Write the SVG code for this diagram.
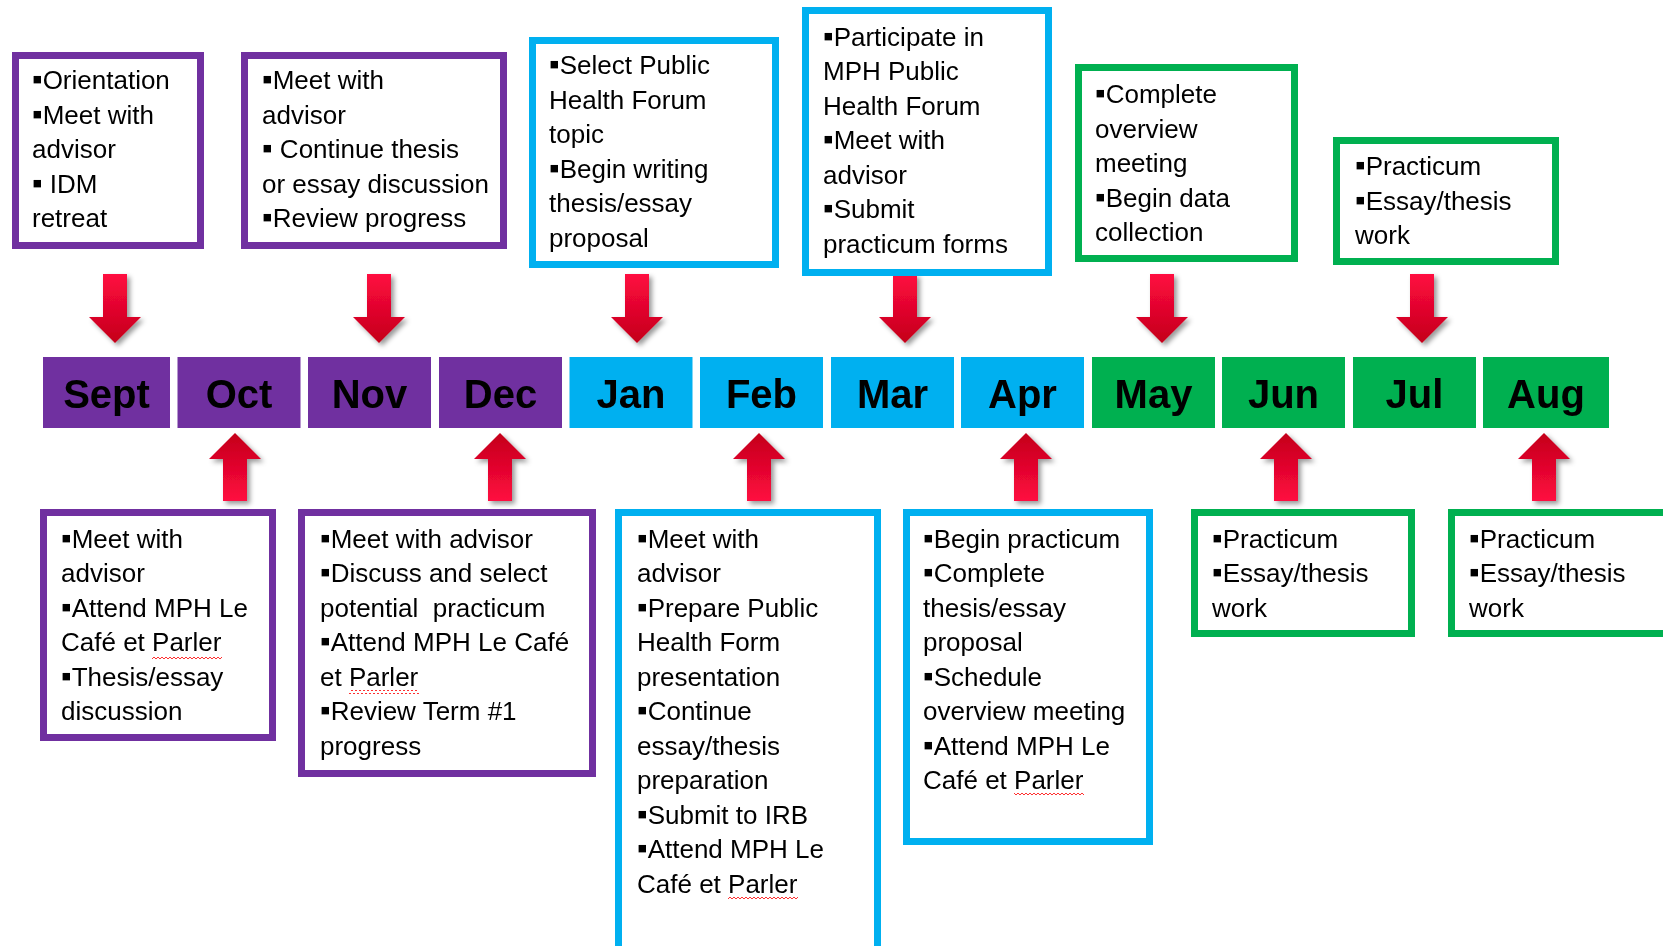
<svg xmlns="http://www.w3.org/2000/svg" xmlns:xlink="http://www.w3.org/1999/xlink" width="1663" height="946" viewBox="0 0 1663 946">
<style>
.bx{fill:#fff;stroke-width:7}
.pu{stroke:#7030A0}
.cy{stroke:#00B0F0}
.gr{stroke:#00B050}
.bar-pu{fill:#7030A0}
.bar-cy{fill:#00B0F0}
.bar-gr{fill:#00B050}
.mon{font-family:"Liberation Sans",Arial,sans-serif;font-weight:bold;font-size:40px;fill:#000;text-anchor:middle}
.t{font-family:"Liberation Sans",Arial,sans-serif;font-size:26px;fill:#000;white-space:pre}
.b{font-size:30px}
.sq{fill:url(#squig)}
</style>
<defs>
<linearGradient id="arrG" x1="0" y1="0" x2="0" y2="1">
<stop offset="0" stop-color="#ff0a40"/>
<stop offset="1" stop-color="#c4001a"/>
</linearGradient>
<linearGradient id="arrGu" x1="0" y1="0" x2="0" y2="1">
<stop offset="0" stop-color="#c4001a"/>
<stop offset="1" stop-color="#ff0a40"/>
</linearGradient>
<filter id="shadow" x="-30%" y="-20%" width="160%" height="140%">
<feDropShadow dx="3" dy="3" stdDeviation="2.5" flood-color="#000" flood-opacity="0.4"/>
</filter>
<path id="down" d="M-12 0 H12 V43 H26 L0 69 L-26 43 H-12 Z" fill="url(#arrG)"/>
<path id="up" d="M0 0 L26 26 H12 V68 H-12 V26 H-26 Z" fill="url(#arrGu)"/>
<pattern id="squig" patternUnits="userSpaceOnUse" x="0" y="0" width="4" height="4">
<path d="M0 3 L2 1 L4 3" fill="none" stroke="#ff3030" stroke-width="1"/>
</pattern>
</defs>
<rect width="1663" height="946" fill="#fff"/>

<g id="connectors" filter="url(#shadow)">
<use xlink:href="#down" href="#down" x="115" y="274"/>
<use xlink:href="#down" href="#down" x="379" y="274"/>
<use xlink:href="#down" href="#down" x="637" y="274"/>
<use xlink:href="#down" href="#down" x="905" y="274"/>
<use xlink:href="#down" href="#down" x="1162" y="274"/>
<use xlink:href="#down" href="#down" x="1422" y="274"/>
<use xlink:href="#up" href="#up" x="235" y="433"/>
<use xlink:href="#up" href="#up" x="500" y="433"/>
<use xlink:href="#up" href="#up" x="759" y="433"/>
<use xlink:href="#up" href="#up" x="1026" y="433"/>
<use xlink:href="#up" href="#up" x="1286" y="433"/>
<use xlink:href="#up" href="#up" x="1544" y="433"/>
</g>

<g id="month-sept"><rect class="bar-pu" x="43" y="357" width="127" height="71"/><text class="mon" x="106.5" y="408">Sept</text></g>
<g id="month-oct"><rect class="bar-pu" x="177.5" y="357" width="123" height="71"/><text class="mon" x="239" y="408">Oct</text></g>
<g id="month-nov"><rect class="bar-pu" x="308" y="357" width="123" height="71"/><text class="mon" x="369.5" y="408">Nov</text></g>
<g id="month-dec"><rect class="bar-pu" x="439" y="357" width="123" height="71"/><text class="mon" x="500.5" y="408">Dec</text></g>
<g id="month-jan"><rect class="bar-cy" x="569.5" y="357" width="123" height="71"/><text class="mon" x="631" y="408">Jan</text></g>
<g id="month-feb"><rect class="bar-cy" x="700" y="357" width="123" height="71"/><text class="mon" x="761.5" y="408">Feb</text></g>
<g id="month-mar"><rect class="bar-cy" x="831" y="357" width="123" height="71"/><text class="mon" x="892.5" y="408">Mar</text></g>
<g id="month-apr"><rect class="bar-cy" x="961" y="357" width="123" height="71"/><text class="mon" x="1022.5" y="408">Apr</text></g>
<g id="month-may"><rect class="bar-gr" x="1092" y="357" width="123" height="71"/><text class="mon" x="1153.5" y="408">May</text></g>
<g id="month-jun"><rect class="bar-gr" x="1222" y="357" width="123" height="71"/><text class="mon" x="1283.5" y="408">Jun</text></g>
<g id="month-jul"><rect class="bar-gr" x="1353" y="357" width="123" height="71"/><text class="mon" x="1414.5" y="408">Jul</text></g>
<g id="month-aug"><rect class="bar-gr" x="1483" y="357" width="126" height="71"/><text class="mon" x="1546" y="408">Aug</text></g>

<g id="box-sept">
<rect class="bx pu" x="15.5" y="55.5" width="185" height="190"/>
<text class="t" x="32" y="89"><tspan class="b">▪</tspan>Orientation</text>
<text class="t" x="32" y="123.5"><tspan class="b">▪</tspan>Meet with</text>
<text class="t" x="32" y="158">advisor</text>
<text class="t" x="32" y="192.5"><tspan class="b">▪</tspan> IDM</text>
<text class="t" x="32" y="227">retreat</text>
</g>

<g id="box-nov">
<rect class="bx pu" x="244.5" y="55.5" width="259" height="190"/>
<text class="t" x="262" y="89"><tspan class="b">▪</tspan>Meet with</text>
<text class="t" x="262" y="123.5">advisor</text>
<text class="t" x="262" y="158"><tspan class="b">▪</tspan> Continue thesis</text>
<text class="t" x="262" y="192.5">or essay discussion</text>
<text class="t" x="262" y="227"><tspan class="b">▪</tspan>Review progress</text>
</g>

<g id="box-jan">
<rect class="bx cy" x="532.5" y="40.5" width="243" height="224"/>
<text class="t" x="549" y="74"><tspan class="b">▪</tspan>Select Public</text>
<text class="t" x="549" y="108.5">Health Forum</text>
<text class="t" x="549" y="143">topic</text>
<text class="t" x="549" y="177.5"><tspan class="b">▪</tspan>Begin writing</text>
<text class="t" x="549" y="212">thesis/essay</text>
<text class="t" x="549" y="246.5">proposal</text>
</g>

<g id="box-mar">
<rect class="bx cy" x="805.5" y="10.5" width="243" height="262"/>
<text class="t" x="823" y="45.5"><tspan class="b">▪</tspan>Participate in</text>
<text class="t" x="823" y="80">MPH Public</text>
<text class="t" x="823" y="114.5">Health Forum</text>
<text class="t" x="823" y="149"><tspan class="b">▪</tspan>Meet with</text>
<text class="t" x="823" y="183.5">advisor</text>
<text class="t" x="823" y="218"><tspan class="b">▪</tspan>Submit</text>
<text class="t" x="823" y="252.5">practicum forms</text>
</g>

<g id="box-may">
<rect class="bx gr" x="1078.5" y="67.5" width="216" height="191"/>
<text class="t" x="1095" y="103"><tspan class="b">▪</tspan>Complete</text>
<text class="t" x="1095" y="137.5">overview</text>
<text class="t" x="1095" y="172">meeting</text>
<text class="t" x="1095" y="206.5"><tspan class="b">▪</tspan>Begin data</text>
<text class="t" x="1095" y="241">collection</text>
</g>

<g id="box-jul">
<rect class="bx gr" x="1336.5" y="140.5" width="219" height="121"/>
<text class="t" x="1355" y="175"><tspan class="b">▪</tspan>Practicum</text>
<text class="t" x="1355" y="209.5"><tspan class="b">▪</tspan>Essay/thesis</text>
<text class="t" x="1355" y="244">work</text>
</g>

<g id="box-oct">
<rect class="bx pu" x="43.5" y="512.5" width="229" height="225"/>
<text class="t" x="61" y="547.5"><tspan class="b">▪</tspan>Meet with</text>
<text class="t" x="61" y="582">advisor</text>
<text class="t" x="61" y="616.5"><tspan class="b">▪</tspan>Attend MPH Le</text>
<text class="t" x="61" y="651">Café et Parler</text>
<text class="t" x="61" y="685.5"><tspan class="b">▪</tspan>Thesis/essay</text>
<text class="t" x="61" y="720">discussion</text>
<rect class="sq" x="152" y="655" width="70" height="4"/>
</g>

<g id="box-dec">
<rect class="bx pu" x="301.5" y="512.5" width="291" height="261"/>
<text class="t" x="320" y="547.5"><tspan class="b">▪</tspan>Meet with advisor</text>
<text class="t" x="320" y="582"><tspan class="b">▪</tspan>Discuss and select</text>
<text class="t" x="320" y="616.5">potential  practicum</text>
<text class="t" x="320" y="651"><tspan class="b">▪</tspan>Attend MPH Le Café</text>
<text class="t" x="320" y="685.5">et Parler</text>
<text class="t" x="320" y="720"><tspan class="b">▪</tspan>Review Term #1</text>
<text class="t" x="320" y="754.5">progress</text>
<rect class="sq" x="349" y="690" width="70" height="4"/>
</g>

<g id="box-feb">
<rect class="bx cy" x="618.5" y="512.5" width="259" height="470"/>
<text class="t" x="637" y="547.5"><tspan class="b">▪</tspan>Meet with</text>
<text class="t" x="637" y="582">advisor</text>
<text class="t" x="637" y="616.5"><tspan class="b">▪</tspan>Prepare Public</text>
<text class="t" x="637" y="651">Health Form</text>
<text class="t" x="637" y="685.5">presentation</text>
<text class="t" x="637" y="720"><tspan class="b">▪</tspan>Continue</text>
<text class="t" x="637" y="754.5">essay/thesis</text>
<text class="t" x="637" y="789">preparation</text>
<text class="t" x="637" y="823.5"><tspan class="b">▪</tspan>Submit to IRB</text>
<text class="t" x="637" y="858"><tspan class="b">▪</tspan>Attend MPH Le</text>
<text class="t" x="637" y="892.5">Café et Parler</text>
<rect class="sq" x="728" y="896" width="70" height="4"/>
</g>

<g id="box-apr">
<rect class="bx cy" x="906.5" y="512.5" width="243" height="329"/>
<text class="t" x="923" y="547.5"><tspan class="b">▪</tspan>Begin practicum</text>
<text class="t" x="923" y="582"><tspan class="b">▪</tspan>Complete</text>
<text class="t" x="923" y="616.5">thesis/essay</text>
<text class="t" x="923" y="651">proposal</text>
<text class="t" x="923" y="685.5"><tspan class="b">▪</tspan>Schedule</text>
<text class="t" x="923" y="720">overview meeting</text>
<text class="t" x="923" y="754.5"><tspan class="b">▪</tspan>Attend MPH Le</text>
<text class="t" x="923" y="789">Café et Parler</text>
<rect class="sq" x="1014" y="793" width="70" height="4"/>
</g>

<g id="box-jun">
<rect class="bx gr" x="1194.5" y="512.5" width="217" height="121"/>
<text class="t" x="1212" y="547.5"><tspan class="b">▪</tspan>Practicum</text>
<text class="t" x="1212" y="582"><tspan class="b">▪</tspan>Essay/thesis</text>
<text class="t" x="1212" y="616.5">work</text>
</g>

<g id="box-aug">
<rect class="bx gr" x="1451.5" y="512.5" width="260" height="121"/>
<text class="t" x="1469" y="547.5"><tspan class="b">▪</tspan>Practicum</text>
<text class="t" x="1469" y="582"><tspan class="b">▪</tspan>Essay/thesis</text>
<text class="t" x="1469" y="616.5">work</text>
</g>
</svg>
